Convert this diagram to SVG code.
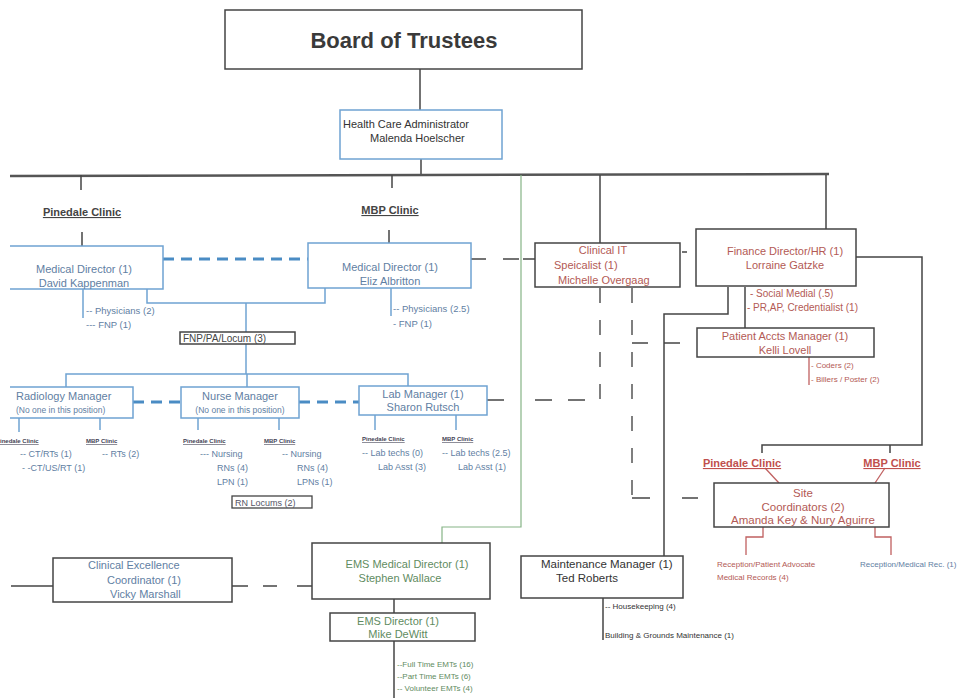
<svg xmlns="http://www.w3.org/2000/svg" width="974" height="698" viewBox="0 0 974 698">
<style>
text{font-family:"Liberation Sans",Arial,sans-serif;}
.bx{fill:#fff;stroke:#444;stroke-width:1.5}
.bb{fill:#fff;stroke:#6fa3d2;stroke-width:1.5}
.ln{fill:none;stroke:#444;stroke-width:1.5}
.lb{fill:none;stroke:#6fa3d2;stroke-width:1.5}
.lg{fill:none;stroke:#86b486;stroke-width:1.2}
.lr{fill:none;stroke:#c06060;stroke-width:1.3}
.dsh{fill:none;stroke:#4a8cc4;stroke-width:3;stroke-dasharray:11 7}
.dk{fill:none;stroke:#555;stroke-width:1.5;stroke-dasharray:15 17}
.tb{fill:#5f80a3;font-size:11px}
.tbs{fill:#5f80a3;font-size:9.5px}
.tr{fill:#b35a55;font-size:11px}
.trs{fill:#b35a55;font-size:8px}
.tg{fill:#5f8c5f;font-size:11px}
.tk{fill:#333;font-size:11px}
.tks{fill:#333;font-size:8px}
.hd{fill:#444;font-size:11px;font-weight:bold;text-decoration:underline}
.tiny{fill:#445;font-size:6px;font-weight:bold;text-decoration:underline}
</style>

<g id="connectors">
  <line class="ln" x1="420" y1="69" x2="420" y2="110"/>
  <line class="ln" x1="421" y1="159" x2="421" y2="175"/>
  <line x1="10" y1="176" x2="829" y2="174" stroke="#555" stroke-width="2.5"/>
  <line class="ln" x1="81" y1="175" x2="81" y2="190"/>
  <line class="ln" x1="392" y1="175" x2="392" y2="188"/>
  <line class="ln" x1="82" y1="232" x2="82" y2="246"/>
  <line class="ln" x1="389" y1="230" x2="389" y2="243"/>
  <line class="ln" x1="600" y1="175" x2="600" y2="243"/>
  <line class="ln" x1="826" y1="175" x2="826" y2="229"/>
  <polyline class="lg" points="521,175 521,527 442,527 442,543"/>
  <line class="dsh" x1="163" y1="259" x2="308" y2="259"/>
  <polyline class="lb" points="147,289 147,303 325,303 325,288"/>
  <line class="lb" x1="246" y1="303" x2="246" y2="332"/>
  <line class="lb" x1="83" y1="289" x2="83" y2="318"/>
  <line class="lb" x1="391" y1="288" x2="391" y2="316"/>
  <line class="ln" x1="471" y1="259" x2="486" y2="259"/>
  <line class="ln" x1="503" y1="259" x2="519" y2="259"/>
  <line class="ln" x1="523" y1="259" x2="535" y2="259"/>
  <line class="ln" x1="682" y1="252" x2="687" y2="252"/>
  <line class="lb" x1="246" y1="344" x2="246" y2="374"/>
  <polyline class="lb" points="66,387 66,374 408,374 408,386"/>
  <line class="lb" x1="247" y1="374" x2="247" y2="387"/>
  <line class="dsh" x1="133" y1="402" x2="181" y2="402"/>
  <line class="dsh" x1="299" y1="402" x2="359" y2="402"/>
  <line class="lb" x1="19" y1="418" x2="19" y2="432"/>
  <line class="lb" x1="100" y1="418" x2="100" y2="430"/>
  <line class="lb" x1="198" y1="418" x2="198" y2="430"/>
  <line class="lb" x1="279" y1="418" x2="279" y2="430"/>
  <line class="lb" x1="375" y1="415" x2="375" y2="430"/>
  <line class="lb" x1="456" y1="415" x2="456" y2="430"/>
  <line class="ln" x1="487" y1="400" x2="504" y2="400"/>
  <line class="ln" x1="535" y1="400" x2="552" y2="400"/>
  <line class="ln" x1="568" y1="400" x2="585" y2="400"/>
  <polyline class="dk" points="600,288 600,400 586,400" stroke-dasharray="12 17"/>
  <line class="dk" x1="632" y1="288" x2="632" y2="498" stroke-dasharray="13 15"/>
  <line class="ln" x1="632" y1="498" x2="650" y2="498"/>
  <line class="ln" x1="682" y1="498" x2="698" y2="498"/>
  <line class="ln" x1="632" y1="343" x2="648" y2="343"/>
  <line class="ln" x1="664" y1="343" x2="680" y2="343"/>
  <polyline class="ln" points="728,287 728,314 664,314 664,556"/>
  <line class="ln" x1="745" y1="287" x2="745" y2="328"/>
  <polyline class="ln" points="856,257 922,257 922,445 762,445 762,453"/>
  <line class="ln" x1="890" y1="445" x2="890" y2="453"/>
  <line class="lr" x1="809" y1="357" x2="809" y2="385"/>
  <line class="lr" x1="765" y1="468" x2="779" y2="483"/>
  <line class="lr" x1="885" y1="468" x2="875" y2="483"/>
  <polyline class="lr" points="763,527 763,537 746,537 746,555"/>
  <polyline class="lr" points="875,527 875,537 891,537 891,555"/>
  <line class="ln" x1="11" y1="586" x2="53" y2="586"/>
  <line class="ln" x1="232" y1="586" x2="248" y2="586"/>
  <line class="ln" x1="263" y1="586" x2="277" y2="586"/>
  <line class="ln" x1="297" y1="586" x2="312" y2="586"/>
  <line class="ln" x1="394" y1="599" x2="394" y2="613"/>
  <line class="ln" x1="394" y1="641" x2="394" y2="698"/>
  <line class="ln" x1="603" y1="598" x2="603" y2="640"/>
</g>

<g id="board">
  <rect class="bx" x="225" y="10" width="357" height="59"/>
  <text x="404" y="48" text-anchor="middle" style="font-size:22px;font-weight:bold;fill:#3a3a3a">Board of Trustees</text>
</g>

<g id="hca">
  <rect class="bb" x="340" y="110" width="162" height="49"/>
  <text class="tk" x="343" y="128">Health Care Administrator</text>
  <text class="tk" x="370" y="142">Malenda Hoelscher</text>
</g>

<g id="pinedale-label"><text class="hd" x="82" y="216" text-anchor="middle">Pinedale Clinic</text></g>
<g id="mbp-label"><text class="hd" x="390" y="214" text-anchor="middle">MBP Clinic</text></g>

<g id="md-pinedale">
  <polyline class="lb" points="10,246 163,246 163,289 10,289"/>
  <text class="tb" x="84" y="273" text-anchor="middle">Medical Director (1)</text>
  <text class="tb" x="84" y="287" text-anchor="middle">David Kappenman</text>
  <text class="tbs" x="86" y="314">-- Physicians (2)</text>
  <text class="tbs" x="86" y="328">--- FNP (1)</text>
</g>

<g id="md-mbp">
  <rect class="bb" x="308" y="243" width="163" height="45"/>
  <text class="tb" x="390" y="271" text-anchor="middle">Medical Director (1)</text>
  <text class="tb" x="390" y="285" text-anchor="middle">Eliz Albritton</text>
  <text class="tbs" x="393" y="312">-- Physicians (2.5)</text>
  <text class="tbs" x="393" y="327">- FNP (1)</text>
</g>

<g id="fnp">
  <rect x="180" y="332" width="115" height="12" fill="#fff" stroke="#444" stroke-width="1.5"/>
  <text x="183" y="342" style="font-size:10px;fill:#444">FNP/PA/Locum (3)</text>
</g>

<g id="radiology">
  <polyline class="lb" points="10,387 133,387 133,418 10,418"/>
  <text class="tb" x="16" y="400">Radiology Manager</text>
  <text x="16" y="413" style="font-size:8.5px;fill:#5f80a3">(No one in this position)</text>
  <text class="tiny" x="0" y="443">inedale Clinic</text>
  <text class="tiny" x="86" y="443">MBP Clinic</text>
  <text class="tbs" x="20" y="457" style="font-size:9px">-- CT/RTs (1)</text>
  <text class="tbs" x="102" y="457" style="font-size:9px">-- RTs (2)</text>
  <text class="tbs" x="22" y="471" style="font-size:9px">- -CT/US/RT (1)</text>
</g>

<g id="nurse">
  <rect class="bb" x="181" y="387" width="118" height="31"/>
  <text class="tb" x="240" y="400" text-anchor="middle">Nurse Manager</text>
  <text x="240" y="413" text-anchor="middle" style="font-size:8.5px;fill:#5f80a3">(No one in this position)</text>
  <text class="tiny" x="183" y="443">Pinedale Clinic</text>
  <text class="tiny" x="264" y="443">MBP Clinic</text>
  <text class="tbs" x="200" y="457" style="font-size:9px">--- Nursing</text>
  <text class="tbs" x="217" y="471" style="font-size:9px">RNs (4)</text>
  <text class="tbs" x="217" y="485" style="font-size:9px">LPN (1)</text>
  <text class="tbs" x="282" y="457" style="font-size:9px">-- Nursing</text>
  <text class="tbs" x="297" y="471" style="font-size:9px">RNs (4)</text>
  <text class="tbs" x="297" y="485" style="font-size:9px">LPNs (1)</text>
</g>

<g id="rn-locums">
  <rect x="232" y="496" width="80" height="12" fill="#fff" stroke="#444" stroke-width="1.3"/>
  <text x="235" y="506" style="font-size:9px;fill:#556">RN Locums (2)</text>
</g>

<g id="lab">
  <rect class="bb" x="359" y="386" width="128" height="29"/>
  <text class="tb" x="423" y="398" text-anchor="middle">Lab Manager (1)</text>
  <text class="tb" x="423" y="411" text-anchor="middle">Sharon Rutsch</text>
  <text class="tiny" x="362" y="441">Pinedale Clinic</text>
  <text class="tiny" x="442" y="441">MBP Clinic</text>
  <text class="tbs" x="362" y="456" style="font-size:9px">-- Lab techs (0)</text>
  <text class="tbs" x="378" y="470" style="font-size:9px">Lab Asst (3)</text>
  <text class="tbs" x="442" y="456" style="font-size:9px">-- Lab techs (2.5)</text>
  <text class="tbs" x="458" y="470" style="font-size:9px">Lab Asst (1)</text>
</g>

<g id="clinical-it">
  <rect class="bx" x="535" y="243" width="145" height="44"/>
  <text class="tr" x="603" y="254" text-anchor="middle">Clinical IT</text>
  <text class="tr" x="554" y="269">Speicalist (1)</text>
  <text class="tr" x="558" y="284">Michelle Overgaag</text>
</g>

<g id="finance">
  <rect class="bx" x="696" y="229" width="160" height="57"/>
  <text class="tr" x="785" y="255" text-anchor="middle">Finance Director/HR (1)</text>
  <text class="tr" x="785" y="269" text-anchor="middle">Lorraine Gatzke</text>
  <text class="tr" x="750" y="297" style="font-size:10px">- Social Medial (.5)</text>
  <text class="tr" x="747" y="311" style="font-size:10px">-    PR,AP, Credentialist (1)</text>
</g>

<g id="patient-accts">
  <rect class="bx" x="697" y="328" width="177" height="29"/>
  <text class="tr" x="785" y="340" text-anchor="middle">Patient Accts Manager (1)</text>
  <text class="tr" x="785" y="354" text-anchor="middle">Kelli Lovell</text>
  <text class="trs" x="811" y="368">- Coders (2)</text>
  <text class="trs" x="811" y="382">- Billers / Poster (2)</text>
</g>

<g id="site-labels">
  <text x="742" y="467" text-anchor="middle" style="font-size:11px;font-weight:bold;text-decoration:underline;fill:#c0504d">Pinedale Clinic</text>
  <text x="892" y="467" text-anchor="middle" style="font-size:11px;font-weight:bold;text-decoration:underline;fill:#c0504d">MBP Clinic</text>
</g>

<g id="site-coordinators">
  <rect class="bx" x="714" y="483" width="175" height="44"/>
  <text class="tr" x="803" y="497" text-anchor="middle" style="font-size:11.5px">Site</text>
  <text class="tr" x="803" y="511" text-anchor="middle" style="font-size:11.5px">Coordinators (2)</text>
  <text class="tr" x="803" y="524" text-anchor="middle" style="font-size:11.5px">Amanda Key &amp; Nury Aguirre</text>
  <text class="trs" x="717" y="567">Reception/Patient Advocate</text>
  <text class="trs" x="717" y="580">Medical Records (4)</text>
  <text x="860" y="567" style="font-size:8px;fill:#5f80a3">Reception/Medical Rec. (1)</text>
</g>

<g id="clinical-excellence">
  <rect class="bx" x="53" y="558" width="179" height="44"/>
  <text class="tb" x="88" y="569">Clinical Excellence</text>
  <text class="tb" x="107" y="584">Coordinator (1)</text>
  <text class="tb" x="110" y="598">Vicky Marshall</text>
</g>

<g id="ems-medical-director">
  <rect class="bx" x="312" y="543" width="178" height="56"/>
  <text class="tg" x="407" y="568" text-anchor="middle">EMS Medical Director (1)</text>
  <text class="tg" x="400" y="582" text-anchor="middle">Stephen Wallace</text>
</g>

<g id="ems-director">
  <rect class="bx" x="330" y="613" width="145" height="28"/>
  <text class="tg" x="398" y="625" text-anchor="middle">EMS Director (1)</text>
  <text class="tg" x="398" y="638" text-anchor="middle">Mike DeWitt</text>
  <text x="397" y="667" style="font-size:8px;fill:#5f8c5f">--Full Time EMTs (16)</text>
  <text x="397" y="679" style="font-size:8px;fill:#5f8c5f">--Part Time EMTs (6)</text>
  <text x="397" y="691" style="font-size:8px;fill:#5f8c5f">-- Volunteer EMTs (4)</text>
</g>

<g id="maintenance">
  <rect class="bx" x="521" y="556" width="162" height="42"/>
  <text class="tk" x="541" y="568" style="font-size:11.5px">Maintenance Manager (1)</text>
  <text class="tk" x="556" y="582" style="font-size:11.5px">Ted Roberts</text>
  <text class="tks" x="605" y="609">-- Housekeeping (4)</text>
  <text class="tks" x="605" y="638">Building &amp; Grounds Maintenance (1)</text>
</g>
</svg>
